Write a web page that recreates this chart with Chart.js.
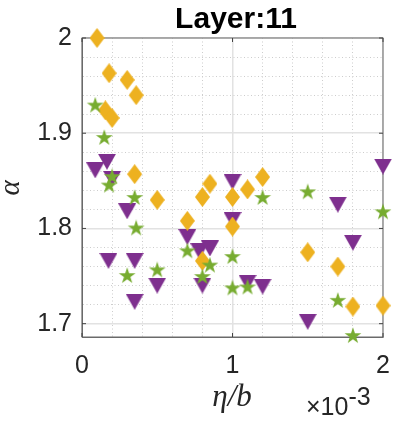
<!DOCTYPE html>
<html>
<head>
<meta charset="utf-8">
<script src="https://cdn.jsdelivr.net/npm/chart.js@4.4.1/dist/chart.umd.min.js"></script>
<style>
  html, body { margin: 0; padding: 0; background: #fff; }
  #chart { display: block; }
</style>
</head>
<body>
<canvas id="chart" width="397" height="423"></canvas>
<script>
// eta/b values are given in units of 1e-3 (the axis shows x10^-3)
const diamondX = [0.10, 0.18, 0.30, 0.36, 0.155, 0.20, 0.35, 0.50, 0.70, 0.80, 0.85, 1.00, 1.00, 1.10, 1.20, 0.80, 1.50, 1.70, 1.80, 2.00];
const diamondY = [2.000, 1.963, 1.956, 1.940, 1.924, 1.916, 1.857, 1.830, 1.808, 1.833, 1.847, 1.833, 1.802, 1.841, 1.854, 1.766, 1.775, 1.760, 1.718, 1.719];

const starX = [0.088, 0.148, 0.20, 0.18, 0.35, 0.36, 0.30, 0.50, 0.70, 0.85, 0.80, 1.00, 1.00, 1.10, 1.20, 1.50, 2.00, 1.70, 1.80];
const starY = [1.929, 1.895, 1.854, 1.845, 1.832, 1.800, 1.750, 1.756, 1.776, 1.761, 1.749, 1.770, 1.737, 1.738, 1.832, 1.838, 1.817, 1.724, 1.687];

const triX = [0.088, 0.166, 0.20, 0.30, 0.176, 0.35, 0.50, 0.35, 0.70, 0.78, 0.85, 0.80, 1.00, 1.00, 1.10, 1.20, 1.50, 1.70, 1.80, 2.00];
const triY = [1.861, 1.870, 1.852, 1.818, 1.766, 1.766, 1.740, 1.723, 1.791, 1.776, 1.779, 1.740, 1.849, 1.809, 1.743, 1.739, 1.702, 1.825, 1.785, 1.865];

const xMajorTicks = [0, 1, 2];
const xTickLabels = ['0', '1', '2'];
const xMinorTicks = [0.2, 0.4, 0.6, 0.8, 1.2, 1.4, 1.6, 1.8];
const yMajorTicks = [1.7, 1.8, 1.9, 2.0];
const yTickLabels = ['1.7', '1.8', '1.9', '2'];
const yMinorTicks = [1.72, 1.74, 1.76, 1.78, 1.82, 1.84, 1.86, 1.88, 1.92, 1.94, 1.96, 1.98];

const toPoints = (xs, ys) => xs.map((x, i) => ({ x: x, y: ys[i] }));

// marker images, like matlab's 'd', 'p' and 'v'
function makeMarker(w, h, color, path) {
    const c = document.createElement('canvas');
    c.width = w;
    c.height = h;
    const g = c.getContext('2d');
    g.fillStyle = color;
    g.beginPath();
    path(g, w, h);
    g.closePath();
    g.fill();
    return c;
}

const diamond = makeMarker(15, 20, '#EDB120', (g, w, h) => {
    g.moveTo(w / 2, 0); g.lineTo(w, h / 2); g.lineTo(w / 2, h); g.lineTo(0, h / 2);
});
const triangle = makeMarker(18, 16, '#7E2F8E', (g, w, h) => {
    g.moveTo(0, 0); g.lineTo(w, 0); g.lineTo(w / 2, h);
});
const star = makeMarker(18, 18, '#77AC30', (g, w, h) => {
    const R = 8.8, r = R * 0.382;
    for (let k = 0; k < 10; k++) {
        const ang = -Math.PI / 2 + k * Math.PI / 5;
        const rad = k % 2 === 0 ? R : r;
        const px = w / 2 + rad * Math.cos(ang), py = h / 2 + rad * Math.sin(ang);
        if (k === 0) g.moveTo(px, py); else g.lineTo(px, py);
    }
});

const minorDash = [1, 2.5];

const frame = {
    id: 'frame',
    beforeDatasetsDraw(chart) {
        const { ctx, chartArea: a, scales: { x, y } } = chart;
        ctx.save();
        ctx.strokeStyle = '#6b6b6b';
        ctx.lineWidth = 1;
        ctx.strokeRect(a.left, a.top, a.right - a.left, a.bottom - a.top);
        // inward tick marks
        ctx.strokeStyle = '#444';
        ctx.beginPath();
        xMajorTicks.forEach(v => {
            const px = x.getPixelForValue(v);
            ctx.moveTo(px, a.bottom); ctx.lineTo(px, a.bottom - 4);
            ctx.moveTo(px, a.top); ctx.lineTo(px, a.top + 4);
        });
        yMajorTicks.forEach(v => {
            const py = y.getPixelForValue(v);
            ctx.moveTo(a.left, py); ctx.lineTo(a.left + 4, py);
            ctx.moveTo(a.right, py); ctx.lineTo(a.right - 4, py);
        });
        ctx.stroke();
        ctx.restore();
    },
    afterDraw(chart) {
        const { ctx } = chart;
        ctx.save();
        ctx.fillStyle = '#000';
        ctx.textAlign = 'center';
        ctx.textBaseline = 'alphabetic';
        ctx.font = 'bold 30px "Liberation Sans", Arial, sans-serif';
        ctx.fillText('Layer:11', 236, 28);

        ctx.fillStyle = '#262626';
        ctx.font = 'italic 31px "Liberation Serif", "Times New Roman", serif';
        ctx.fillText('\u03b7/b', 232, 406);

        ctx.save();
        ctx.translate(11, 188);
        ctx.rotate(-Math.PI / 2);
        ctx.textBaseline = 'middle';
        ctx.font = 'italic 29px "Liberation Serif", "Times New Roman", serif';
        ctx.fillText('\u03b1', 0, 0);
        ctx.restore();

        ctx.textAlign = 'left';
        ctx.font = '25px "Liberation Sans", Arial, sans-serif';
        const base = '\u00d710';
        ctx.fillText(base, 306, 415);
        ctx.fillText('-3', 306 + ctx.measureText(base).width, 405);
        ctx.restore();
    }
};

new Chart(document.getElementById('chart'), {
    type: 'scatter',
    data: {
        datasets: [
            { label: 'stars', data: toPoints(starX, starY), pointStyle: star, clip: false },
            { label: 'diamonds', data: toPoints(diamondX, diamondY), pointStyle: diamond, clip: false },
            { label: 'triangles', data: toPoints(triX, triY), pointStyle: triangle, clip: false }
        ]
    },
    options: {
        responsive: false,
        animation: false,
        events: [],
        layout: { padding: { top: 38, right: 14, left: 0, bottom: 0 } },
        plugins: { legend: { display: false }, title: { display: false }, tooltip: { enabled: false } },
        scales: {
            x: {
                type: 'linear',
                min: 0,
                max: 2,
                afterBuildTicks: s => { s.ticks = xMajorTicks.concat(xMinorTicks).sort((a, b) => a - b).map(v => ({ value: v })); },
                afterFit: s => { s.height = 86; s.paddingLeft = 0; s.paddingRight = 0; },
                ticks: {
                    autoSkip: false,
                    maxRotation: 0,
                    padding: 14,
                    color: '#262626',
                    font: { family: '"Liberation Sans", Arial, sans-serif', size: 25 },
                    callback: v => { const i = xMajorTicks.indexOf(v); return i >= 0 ? xTickLabels[i] : ''; }
                },
                grid: {
                    drawTicks: false,
                    color: c => (c.tick && xMajorTicks.includes(c.tick.value)) ? '#e2e2e2' : '#cdcdcd',
                    lineWidth: c => (c.tick && xMajorTicks.includes(c.tick.value)) ? 1.5 : 1
                },
                border: {
                    color: '#6b6b6b',
                    dash: c => (c.tick && !xMajorTicks.includes(c.tick.value)) ? minorDash : []
                }
            },
            y: {
                type: 'linear',
                min: 1.686,
                max: 2.0,
                afterBuildTicks: s => { s.ticks = yMajorTicks.concat(yMinorTicks).sort((a, b) => a - b).map(v => ({ value: v })); },
                afterFit: s => { s.width = 82; s.paddingTop = 0; s.paddingBottom = 0; },
                ticks: {
                    autoSkip: false,
                    padding: 10,
                    color: '#262626',
                    font: { family: '"Liberation Sans", Arial, sans-serif', size: 25 },
                    callback: v => { const i = yMajorTicks.indexOf(v); return i >= 0 ? yTickLabels[i] : ''; }
                },
                grid: {
                    drawTicks: false,
                    color: c => (c.tick && yMajorTicks.includes(c.tick.value)) ? '#e2e2e2' : '#cdcdcd',
                    lineWidth: c => (c.tick && yMajorTicks.includes(c.tick.value)) ? 1.5 : 1
                },
                border: {
                    color: '#6b6b6b',
                    dash: c => (c.tick && !yMajorTicks.includes(c.tick.value)) ? minorDash : []
                }
            }
        }
    },
    plugins: [frame]
});
</script>
</body>
</html>
